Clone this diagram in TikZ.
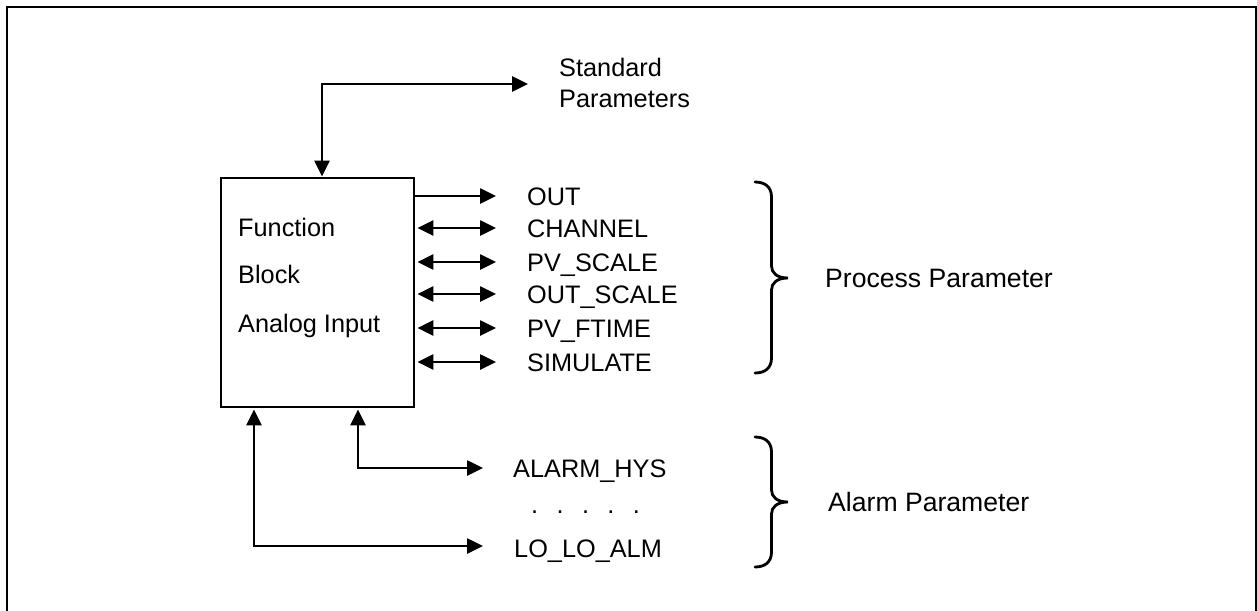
\documentclass[tikz,border=0pt]{standalone}
\usepackage{fontspec}
\setmainfont{Liberation Sans}
\usetikzlibrary{arrows.meta}
\begin{document}
\begin{tikzpicture}[x=1pt,y=-1pt,
  lbl/.style={anchor=base west,inner sep=0pt,font=\fontsize{25.3}{30}\selectfont},
  biglbl/.style={anchor=base west,inner sep=0pt,font=\fontsize{26.6}{31}\selectfont},
  conn/.style={line width=2.6pt},
  tip/.style={-{Triangle[length=16pt,width=15pt]}},
  dtip/.style={{Triangle[length=16pt,width=15pt]}-{Triangle[length=16pt,width=15pt]}},
  fbox/.style={draw,line width=2.8pt,minimum width=193pt,minimum height=229pt,inner sep=0pt},
  brace/.style={line width=2.8pt,line cap=round}]
\useasboundingbox (0,0) rectangle (1257,610);
% frame
\draw[line width=2.4pt] (7,612) -- (7,7) -- (1256.5,7) -- (1256.5,612);
% function block
\node[fbox] (fb) at (317.5,292.5) {};
\node[lbl] (t1) at (238,236) {Function};
\node[lbl] (t2) at (238,283) {Block};
\node[lbl] (t3) at (238,332) {Analog Input};
% standard parameters
\node[lbl] (std1) at (559,77) {Standard};
\node[lbl] (std2) at (559,107) {Parameters};
\coordinate (stdend) at (528,84);
\draw[conn,dtip] (fb.north -| 322,0) |- (stdend);
% process parameters
\node[lbl] (out) at (527,205) {OUT};
\node[lbl] (chan) at (527,237) {CHANNEL};
\node[lbl] (pvs) at (527,271) {PV\_SCALE};
\node[lbl] (outs) at (527,303) {OUT\_SCALE};
\node[lbl] (pvf) at (527,337) {PV\_FTIME};
\node[lbl] (sim) at (527,371) {SIMULATE};
\coordinate (eout) at (496,196);
\coordinate (echan) at (496,228);
\coordinate (epvs) at (496,262);
\coordinate (eouts) at (496,294);
\coordinate (epvf) at (496,328);
\coordinate (esim) at (496,362);
\draw[conn,tip] (fb.east |- eout) -- (eout);
\draw[conn,dtip] ([xshift=2pt]fb.east |- echan) -- (echan);
\draw[conn,dtip] ([xshift=2pt]fb.east |- epvs) -- (epvs);
\draw[conn,dtip] ([xshift=2pt]fb.east |- eouts) -- (eouts);
\draw[conn,dtip] ([xshift=2pt]fb.east |- epvf) -- (epvf);
\draw[conn,dtip] ([xshift=2pt]fb.east |- esim) -- (esim);
% alarm parameters
\node[lbl] (ahys) at (513,477) {ALARM\_HYS};
\node[lbl] (dots) at (531,513) {.\hspace{18.4pt}.\hspace{18.4pt}.\hspace{18.4pt}.\hspace{18.4pt}.};
\node[lbl] (lolo) at (514,557) {LO\_LO\_ALM};
\coordinate (eahys) at (483,468);
\coordinate (elolo) at (483,546);
\draw[conn,dtip] (eahys) -| ([yshift=-1pt]fb.south -| 358,0);
\draw[conn,dtip] (elolo) -| ([yshift=-1pt]fb.south -| 254,0);
% braces
\draw[brace] (755,182) .. controls (765,182) and (771.5,187) .. (771.5,197)
  -- (771.5,266) .. controls (771.5,273) and (777,278) .. (788,278)
  .. controls (777,278) and (771.5,283) .. (771.5,290)
  -- (771.5,358) .. controls (771.5,368) and (765,373) .. (755,373);
\draw[brace] (755,437) .. controls (765,437) and (771.5,442) .. (771.5,452)
  -- (771.5,490) .. controls (771.5,497) and (777,502) .. (788,502)
  .. controls (777,502) and (771.5,507) .. (771.5,514)
  -- (771.5,552) .. controls (771.5,562) and (765,567) .. (755,567);
\node[biglbl] (pp) at (825,287) {Process Parameter};
\node[biglbl] (ap) at (828,511) {Alarm Parameter};
\end{tikzpicture}
\end{document}
